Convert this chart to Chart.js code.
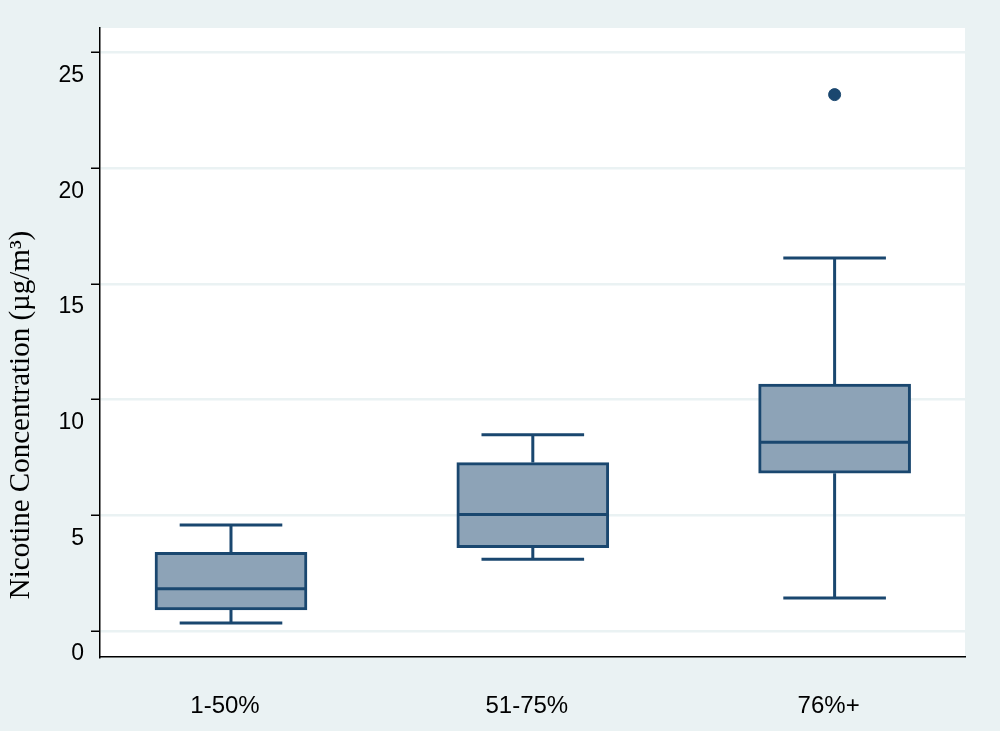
<!DOCTYPE html>
<html>
<head>
<meta charset="utf-8">
<script src="https://cdn.jsdelivr.net/npm/chart.js@4.4.1/dist/chart.umd.min.js"></script>
<style>
  html, body { margin: 0; padding: 0; background: #eaf2f3; }
  canvas { display: block; }
</style>
</head>
<body>
<canvas id="boxplot" width="1000" height="731"></canvas>
<script>
const categories = ['1-50%', '51-75%', '76%+'];
const positions = [1, 2, 3];
const whiskerLow = [0.35, 3.10, 1.43];
const q1 = [0.91, 3.60, 6.82];
const median = [1.83, 5.04, 8.16];
const q3 = [3.40, 7.28, 10.67];
const whiskerHigh = [4.58, 8.49, 16.13];
const outliers = [{ x: 3, y: 23.19 }];
const yTicks = [0, 5, 10, 15, 20, 25];

const navy = '#1a476f';
const boxFill = '#8da3b7';
const bg = '#eaf2f3';

// whiskers, caps and median lines, placed via the chart scales
const boxLines = {
  id: 'boxLines',
  beforeDraw(chart) {
    const { ctx, chartArea: a } = chart;
    ctx.save();
    ctx.fillStyle = bg;
    ctx.fillRect(0, 0, chart.width, chart.height);
    ctx.fillStyle = '#ffffff';
    ctx.fillRect(a.left, a.top, a.right - a.left, a.bottom - a.top);
    ctx.restore();
  },
  beforeDatasetsDraw(chart) {
    const { ctx, scales: { x, y } } = chart;
    ctx.save();
    ctx.strokeStyle = navy;
    ctx.lineWidth = 3;
    const capHalf = 0.17;
    positions.forEach((p, i) => {
      const cx = x.getPixelForValue(p);
      ctx.beginPath();
      ctx.moveTo(cx, y.getPixelForValue(whiskerLow[i]));
      ctx.lineTo(cx, y.getPixelForValue(q1[i]));
      ctx.moveTo(cx, y.getPixelForValue(q3[i]));
      ctx.lineTo(cx, y.getPixelForValue(whiskerHigh[i]));
      ctx.moveTo(x.getPixelForValue(p - capHalf), y.getPixelForValue(whiskerLow[i]));
      ctx.lineTo(x.getPixelForValue(p + capHalf), y.getPixelForValue(whiskerLow[i]));
      ctx.moveTo(x.getPixelForValue(p - capHalf), y.getPixelForValue(whiskerHigh[i]));
      ctx.lineTo(x.getPixelForValue(p + capHalf), y.getPixelForValue(whiskerHigh[i]));
      ctx.stroke();
    });
    ctx.restore();
  },
  afterDatasetsDraw(chart) {
    const { ctx, scales: { x, y } } = chart;
    ctx.save();
    ctx.strokeStyle = navy;
    ctx.lineWidth = 3;
    const half = 0.25;
    positions.forEach((p, i) => {
      const my = y.getPixelForValue(median[i]);
      ctx.beginPath();
      ctx.moveTo(x.getPixelForValue(p - half), my);
      ctx.lineTo(x.getPixelForValue(p + half), my);
      ctx.stroke();
    });
    // y axis title
    ctx.fillStyle = '#000';
    ctx.font = '29px "Liberation Serif", "Times New Roman", serif';
    ctx.textAlign = 'center';
    ctx.textBaseline = 'middle';
    ctx.translate(21, 415);
    ctx.rotate(-Math.PI / 2);
    ctx.fillText('Nicotine Concentration (µg/m³)', 0, 0);
    ctx.restore();
  }
};

new Chart(document.getElementById('boxplot'), {
  type: 'bar',
  data: {
    datasets: [{
      type: 'bar',
      data: positions.map((p, i) => ({ x: p, y: [q1[i], q3[i]] })),
      backgroundColor: boxFill,
      borderColor: navy,
      borderWidth: 3,
      borderSkipped: false,
      barThickness: 152,
      order: 2
    }, {
      type: 'scatter',
      data: outliers,
      backgroundColor: navy,
      borderColor: navy,
      pointRadius: 6,
      borderWidth: 1,
      order: 1
    }]
  },
  options: {
    responsive: false,
    animation: false,
    layout: { padding: { top: 28, right: 35, left: 0, bottom: 0 } },
    plugins: { legend: { display: false }, tooltip: { enabled: false } },
    scales: {
      x: {
        type: 'linear',
        offset: false,
        min: 0.566,
        max: 3.432,
        afterBuildTicks(s) { s.ticks = positions.map(v => ({ value: v })); },
        afterFit(s) { s.height = 74; },
        grid: { display: false, drawTicks: false },
        border: { display: true, color: '#000', width: 1.5 },
        ticks: {
          callback: (v) => categories[positions.indexOf(v)] || '',
          font: { family: '"Liberation Sans", Arial, sans-serif', size: 24 },
          color: '#000',
          padding: 35,
          labelOffset: -6,
          maxRotation: 0
        }
      },
      y: {
        min: -1.124,
        max: 26.07,
        afterBuildTicks(s) { s.ticks = yTicks.map(v => ({ value: v })); },
        afterFit(s) { s.width = 100; },
        grid: {
          color: bg,
          lineWidth: 2.5,
          tickColor: '#000',
          tickLength: 9,
          tickWidth: 1.5
        },
        border: { display: true, color: '#000', width: 1.5 },
        ticks: {
          font: { family: '"Liberation Sans", Arial, sans-serif', size: 23 },
          color: '#000',
          padding: 7,
          labelOffset: 23
        }
      }
    }
  },
  plugins: [boxLines]
});
</script>
</body>
</html>
